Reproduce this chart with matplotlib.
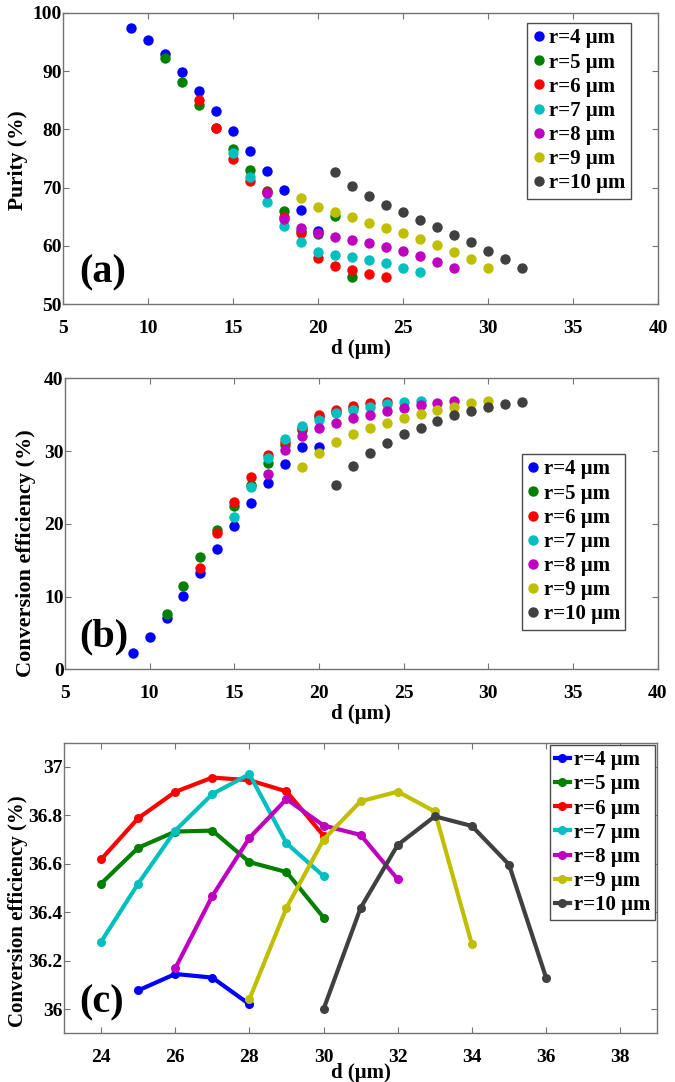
import numpy as np
import matplotlib
matplotlib.use("Agg")
import matplotlib.pyplot as plt

plt.rcParams["font.family"] = ["Liberation Serif", "DejaVu Serif"]
plt.rcParams["font.weight"] = "bold"

radii = [4, 5, 6, 7, 8, 9, 10]
labels = [f"r={r} \u03bcm" for r in radii]
colors = [(0, 0, 1), (0, 0.5, 0), (1, 0, 0), (0, 0.75, 0.75),
          (0.75, 0, 0.75), (0.75, 0.75, 0), (0.25, 0.25, 0.25)]

# (a) purity vs d, 12 points per radius starting at d = 2r+1
d_start = [9, 11, 13, 15, 17, 19, 21]
purity = [
    [97.4, 95.4, 92.9, 89.8, 86.5, 83.2, 79.8, 76.3, 72.9, 69.6, 66.1, 62.6],
    [92.3, 88.1, 84.2, 80.3, 76.6, 73.0, 69.5, 66.0, 62.5, 62.0, 65.1, 54.6],
    [85.0, 80.2, 74.9, 71.2, 69.2, 65.0, 62.3, 57.9, 56.6, 55.8, 55.2, 54.6],
    [75.9, 71.9, 67.5, 63.4, 60.6, 59.0, 58.5, 58.1, 57.6, 57.0, 56.3, 55.6],
    [69.0, 64.6, 63.0, 62.2, 61.5, 61.0, 60.5, 59.9, 59.2, 58.3, 57.3, 56.3],
    [68.3, 66.7, 65.8, 64.9, 64.0, 63.1, 62.3, 61.2, 60.2, 59.0, 57.7, 56.3],
    [72.6, 70.2, 68.6, 67.1, 65.8, 64.5, 63.2, 61.9, 60.6, 59.1, 57.7, 56.3],
]
# (b) conversion efficiency vs d
efficiency = [
    [2.3, 4.5, 7.0, 10.1, 13.2, 16.5, 19.7, 22.8, 25.6, 28.2, 30.5, 30.6],
    [7.6, 11.5, 15.4, 19.2, 22.5, 25.4, 28.3, 30.8, 32.9, 34.7, 35.4, 35.9],
    [13.9, 18.8, 23.0, 26.5, 29.4, 31.3, 33.2, 34.9, 35.7, 36.2, 36.6, 36.7],
    [20.9, 25.1, 29.1, 31.7, 33.5, 34.3, 35.2, 35.6, 36.1, 36.4, 36.8, 36.9],
    [26.9, 30.1, 32.0, 33.1, 33.9, 34.5, 35.0, 35.5, 35.9, 36.3, 36.6, 36.9],
    [27.8, 29.8, 31.3, 32.3, 33.1, 33.9, 34.5, 35.1, 35.6, 36.1, 36.6, 36.9],
    [25.4, 28.0, 29.7, 31.1, 32.3, 33.2, 34.1, 34.9, 35.5, 36.1, 36.5, 36.8],
]
# (c) fine scan near the optimum
c_start = [25, 24, 24, 24, 26, 28, 30]
efficiency_fine = [
    [36.077, 36.145, 36.130, 36.020],
    [36.518, 36.666, 36.733, 36.737, 36.607, 36.566, 36.378],
    [36.618, 36.788, 36.897, 36.956, 36.945, 36.899, 36.716],
    [36.278, 36.518, 36.737, 36.888, 36.970, 36.685, 36.549],
    [36.168, 36.467, 36.707, 36.867, 36.758, 36.719, 36.536],
    [36.041, 36.418, 36.700, 36.858, 36.898, 36.816, 36.267],
    [36.000, 36.418, 36.678, 36.796, 36.756, 36.597, 36.130],
]

W, H = 675, 1082
fig = plt.figure(figsize=(W / 100, H / 100), dpi=100)


def px_axes(l, t, r, b):
    return fig.add_axes([l / W, 1 - b / H, (r - l) / W, (b - t) / H])


def style(ax):
    for s in ax.spines.values():
        s.set_color("0.45")
        s.set_linewidth(1.0)
    ax.tick_params(direction="in", length=4, width=0.8, color="0.45",
                   top=True, right=True, labelsize=14)
    ax.tick_params(axis="x", pad=11)
    ax.tick_params(axis="y", pad=1)
    for lab in ax.get_xticklabels() + ax.get_yticklabels():
        lab.set_fontweight("bold")


def legend(ax, anchor, hl):
    leg = ax.legend(loc="upper right", bbox_to_anchor=anchor, borderaxespad=0,
                    fancybox=False, framealpha=1, edgecolor="0.3",
                    prop=dict(size=15, weight="bold"), labelspacing=0.2,
                    handlelength=hl, handletextpad=0.2, borderpad=0.25)
    leg.get_frame().set_linewidth(1.0)


ax1 = px_axes(63.3, 12.7, 658.3, 304.3)
for i in range(7):
    x = np.arange(d_start[i], d_start[i] + len(purity[i]))
    ax1.plot(x, purity[i], "o", ms=7.5, mec="none", color=colors[i], label=labels[i])
ax1.set_xlim(5, 40)
ax1.set_ylim(50, 100)
ax1.set_xticks(range(5, 41, 5))
ax1.set_yticks(range(50, 101, 10))
ax1.set_xlabel("d (\u03bcm)", fontsize=15, fontweight="bold", labelpad=2)
ax1.set_ylabel("Purity (%)", fontsize=15.5, fontweight="bold")
ax1.yaxis.set_label_coords(-0.059, 0.495)
ax1.text(7.3, 55.3, "(a)", fontsize=29, fontweight="bold", ha="center", va="center")
style(ax1)
legend(ax1, (0.954, 0.964), 0.6)

ax2 = px_axes(65, 378.3, 657.5, 669.3)
for i in range(7):
    x = np.arange(d_start[i], d_start[i] + len(efficiency[i]))
    ax2.plot(x, efficiency[i], "o", ms=7.5, mec="none", color=colors[i], label=labels[i])
ax2.set_xlim(5, 40)
ax2.set_ylim(0, 40)
ax2.set_xticks(range(5, 41, 5))
ax2.set_yticks(range(0, 41, 10))
ax2.set_xlabel("d (\u03bcm)", fontsize=15, fontweight="bold", labelpad=2)
ax2.set_ylabel("Conversion efficiency (%)", fontsize=16, fontweight="bold")
ax2.yaxis.set_label_coords(-0.049, 0.40)
ax2.text(7.3, 4.4, "(b)", fontsize=29, fontweight="bold", ha="center", va="center")
style(ax2)
legend(ax2, (0.9455, 0.739), 0.6)

ax3 = px_axes(64, 742.7, 657.3, 1033.3)
for i in range(7):
    x = np.arange(c_start[i], c_start[i] + len(efficiency_fine[i]))
    ax3.plot(x, efficiency_fine[i], "-o", lw=3, ms=6.5, mec="none",
             color=colors[i], label=labels[i])
ax3.set_xlim(23, 39)
ax3.set_ylim(35.9, 37.1)
ax3.set_xticks(range(24, 39, 2))
ax3.set_yticks([36, 36.2, 36.4, 36.6, 36.8, 37])
ax3.set_yticklabels(["36", "36.2", "36.4", "36.6", "36.8", "37"])
ax3.set_xlabel("d (\u03bcm)", fontsize=15, fontweight="bold", labelpad=-2)
ax3.set_ylabel("Conversion efficiency (%)", fontsize=15, fontweight="bold")
ax3.yaxis.set_label_coords(-0.060, 0.42)
ax3.text(24.0, 36.026, "(c)", fontsize=29, fontweight="bold", ha="center", va="center")
style(ax3)
legend(ax3, (0.9966, 0.992), 0.7)

fig.savefig("out.png", dpi=100)
